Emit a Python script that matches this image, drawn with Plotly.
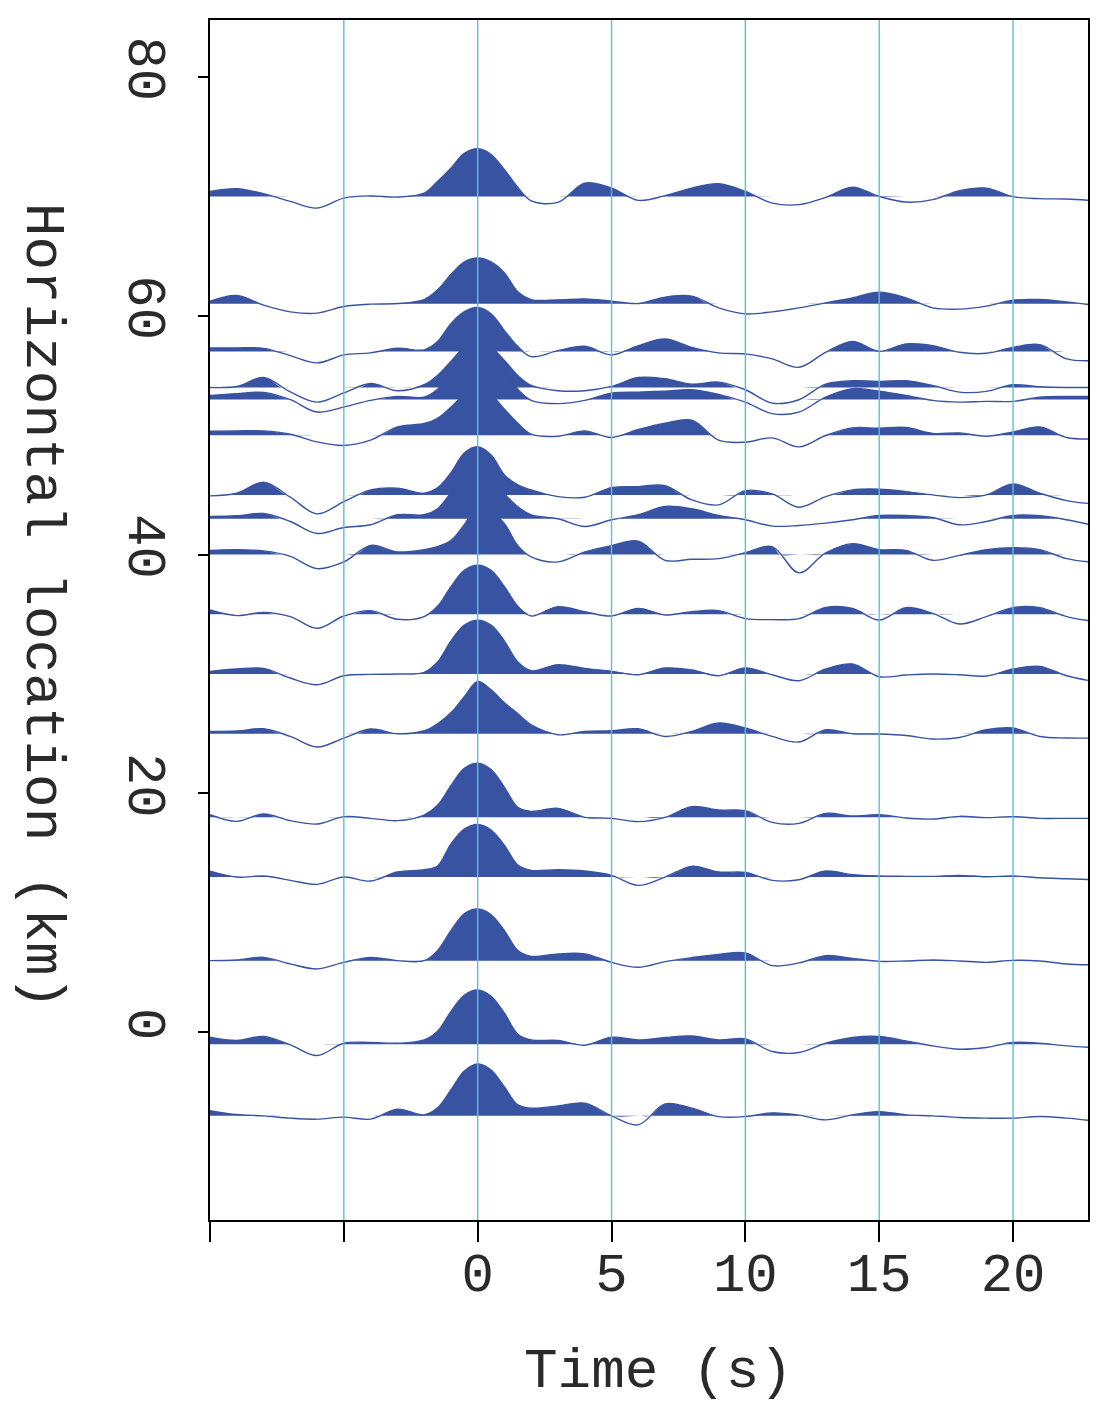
import numpy as np
import plotly.graph_objects as go

# ---------------- data ----------------
# sample times (s): 1 s spacing, 0.5 s around the main arrival
times = [-10, -9, -8, -7, -6, -5, -4, -3, -2,
         -1.5, -1, -0.5, 0, 0.5, 1, 1.5,
         2, 3, 4, 5, 6, 7, 8, 9, 10, 11, 12, 13, 14, 15, 16, 17, 18, 19, 20, 21, 22, 23]
offsets = [70, 61, 57, 54, 53, 50, 45, 43, 40, 35, 30, 25, 18, 13, 6, -1, -7]  # km

tr_01 = [5, 7.7, 2.7, -5, -11.7, -1.7, 0.5, -0.7, 3.3,
         15, 28.3, 43, 47.7, 42, 26.7, 9,
         -4.5, -6, 13.3, 8.3, -4, 0.7, 8.3, 12.7, 5, -6.7, -8.3, -1, 9.3, 0, -5.7, -3.3, 5.7, 8.3, -0.3, -2.3, -2.7, -4.3]
tr_02 = [2.7, 8.3, -1.3, -8, -9.3, -2.7, -0.3, 0.3, 4.3,
         14, 29.3, 42, 46, 42, 31, 12,
         4.3, 4, 5, 2.7, 0.3, 6.7, 7.7, -4, -10, -8, -4, 1, 6, 11.7, 6, -4, -5.3, -2.3, 3.7, 4.3, 2, -1.3]
tr_03 = [3.7, 3.7, 3.3, -4, -11.3, -3.3, -1.3, 3.3, 1.7,
         10, 28, 40, 44.3, 38, 21, 5,
         -5, 1, 5.3, -3.3, 6, 12.7, 4.3, -1.3, -2.3, -7.3, -15.7, -0.7, 10.3, 0.3, 7.7, 6, -0.7, -1.7, 4.3, 7, -7.3, -9]
tr_04 = [0, 1, 10, -4.5, -14.7, -5.5, 4, -3.3, 2.7,
         12, 26, 40, 44, 40, 27, 12,
         2, -3.3, -3.3, 1, 10, 8.7, 3.3, 5.3, -2.3, -15.7, -12.3, 3.3, 6.7, 6, 6.7, 2, -4.7, -4, 2.7, 0.7, 0, 0]
tr_05 = [4, 5.7, 7, -0.3, -12.7, -7.7, -1, 3, 2.3,
         10, 27, 40, 44, 40, 28, 10,
         -1, -4.3, -1, 6.3, 7.3, 8.3, 9.7, 5, -2.7, -14.3, -12.7, 2.3, 10.7, 8.3, 4, -1, -2.7, -2, -2, 2.3, 3, 3]
tr_06 = [4, 4.3, 4.3, 1, -6.7, -10.3, -5, 8.3, 11.7,
         17, 28, 40, 44, 40, 26, 12,
         1, -1, 4.3, -2.3, 5.7, 12, 15, -5, -7, -2.7, -11.7, -0.3, 7.3, 7, 7.7, 1.7, 2.3, -1, 3.3, 8.3, -2.3, -3.7]
tr_07 = [-1, 1.7, 12.7, -2.3, -19, -6.7, 5, 6.7, 1.7,
         7, 22, 42, 48.3, 40, 20, 10,
         5, -1.7, -2.3, 7.3, 8.3, 9.3, -5, -10, 4.3, 1, -12.3, -1.7, 5, 5.7, 3.3, 0, -2.7, 0, 11, 1.7, -5.7, -9]
tr_08 = [2.3, 3, 5.3, -2.7, -14.7, -8.7, -6, 4, 4,
         10, 26, 41, 45, 40, 25, 12,
         4, 0, -7.7, -1, 4, 12.3, 10, 3.3, -1, -7.3, -6.7, -4.3, -1, 3.3, 3.3, 1.3, -6, -2.7, 3.3, 3, -1, -6.7]
tr_09 = [4.3, 5, 3.7, -1.7, -14, -7.3, 9.3, 2.7, 5,
         8, 14, 30, 48, 43, 31, 9,
         -2.3, -7.3, 2.7, 9, 13.5, -5.7, -4.7, -4, 2, 8, -18.3, 1.7, 11, 5, 4.3, -5.7, -0.7, 5, 7, 5, -4, -7.7]
tr_10 = [4.3, -1.3, 2, -2.3, -14, -1.7, 3.7, -5, -2.3,
         8, 27.7, 44, 49.3, 44, 27.7, 8,
         -1.7, 7.7, 2.7, -1.7, 6, -0.7, 2.7, 3.7, -4.3, -5.3, -4.3, 7, 6, -5.7, 6.7, 1, -9.7, -2.3, 6.7, 6.7, -2.3, -7]
tr_11 = [2.7, 5, 5.7, -4, -10.7, -1.7, -0.3, 0, 1.7,
         12, 33, 49, 54, 49, 33, 12,
         3.3, 9.3, 5.7, 2.7, -0.7, 6, 4, -1.7, 6, -0.7, -6.7, 5, 10, -2.7, -1, 0, -0.7, -2, 5, 7.7, -1.7, -7.3]
tr_12 = [2.3, 2.7, 5, -2.7, -13.3, -4.3, 4.7, 0, 3,
         10, 21, 37, 52.3, 44, 31, 20,
         9, -1, 2.3, 3, 5, -2.7, 2.3, 10.7, 5.7, -2.7, -8.3, 4, 0, -0.3, -1.7, -5.3, -3.7, 4, 5.7, -2.7, -4.3, -4.3]
tr_13 = [2.7, -4, 3.3, -3.3, -6.7, 0.7, -1, -3.3, 2.3,
         12, 31.7, 49, 54.3, 48, 30, 10,
         6, 9, 0, -1, -4.3, 0, 10.7, 7.3, 6.7, -5, -6, 4, 1.3, 2.7, -0.7, -1.7, 1, -0.3, 0.7, -1, -1, -1]
tr_14 = [6, 0, 1, -3.3, -7.3, 0, -4, 5, 7.3,
         11, 33, 48, 52.7, 47, 31.7, 12,
         6.7, 7.3, 6, 1.7, -8.3, 0, 10.7, 5, 4.7, -3.3, -2.7, 6, 2.3, 1, 0.7, 0.7, 1.7, 0.3, 1, -0.7, -1.7, -2.7]
tr_15 = [0, 0.7, 3.3, -3.3, -8.3, -1.7, 3.3, 0, 0,
         10, 30, 47, 51.7, 46, 30, 10,
         4.3, 6.7, 6.7, -1.7, -6.7, -1, 3, 6.3, 7.7, -5, -2.3, 5, 2.3, -0.7, -0.3, 0.7, -0.3, -1.7, 0.3, -0.3, -3.3, -4.3]
tr_16 = [7, 3.7, 7.7, -0.7, -11.3, 1, 1.7, 1, 4.3,
         13, 32.7, 49, 54.3, 48, 31, 10,
         4.3, 3.7, -1, 7, 4.3, 6.7, 8.3, 4.3, 5.3, -7.3, -8.3, 1, 6.7, 7.7, 3.3, -1.7, -5, -3.3, 1.7, 1, -1.7, -3.3]
tr_17 = [5.3, 1.3, 0, -2.3, -3.3, -1.3, -3.3, 6.7, 1,
         8, 26, 45, 52, 46, 29, 11,
         7.7, 10, 12.7, 0, -9, 12, 7.7, -0.7, -0.7, 3, 0.7, -4, 1, 4.3, 1, 0, -1.7, -2.3, -2.3, -0.7, -2.3, -5]

traces = [tr_01, tr_02, tr_03, tr_04, tr_05, tr_06, tr_07, tr_08, tr_09,
          tr_10, tr_11, tr_12, tr_13, tr_14, tr_15, tr_16, tr_17]

x_tickvals = [-10, -5, 0, 5, 10, 15, 20]
x_ticktext = ["", "", "0", "5", "10", "15", "20"]
y_tickvals = [0, 20, 40, 60, 80]
grid_times = [-5, 0, 5, 10, 15, 20]

# ---------------- style ----------------
COL = "#3953a3"
GRID = "#55c0dc"
FONT = "Liberation Mono"
TXT = "#2a2a2a"
AMP_SCALE = 1 / 11.9625  # amplitude units -> km


def positive_part(t, a):
    xs, ys = [], []
    for i in range(len(t)):
        if i > 0 and a[i - 1] * a[i] < 0:
            tc = t[i - 1] + (t[i] - t[i - 1]) * a[i - 1] / (a[i - 1] - a[i])
            xs.append(tc)
            ys.append(0.0)
        xs.append(t[i])
        ys.append(max(a[i], 0.0))
    return xs, np.array(ys)


fig = go.Figure()
for off, amp in zip(offsets, traces):
    a = np.array(amp, dtype=float)
    xs, ys = positive_part(times, a)
    fig.add_trace(go.Scatter(x=[times[0], times[-1]], y=[off, off], mode="lines",
                             line=dict(width=0, color=COL), hoverinfo="skip",
                             showlegend=False))
    fig.add_trace(go.Scatter(x=xs, y=off + ys * AMP_SCALE, mode="lines",
                             line=dict(width=0, color=COL, shape="spline", smoothing=1.0),
                             fill="tonexty", fillcolor=COL, showlegend=False))
    fig.add_trace(go.Scatter(x=times, y=off + a * AMP_SCALE, mode="lines",
                             line=dict(width=1.4, color=COL, shape="spline", smoothing=1.0),
                             showlegend=False))

for g in grid_times:
    fig.add_vline(x=g, line=dict(color=GRID, width=1.4), layer="above")

fig.update_xaxes(range=[-10, 22.8], tickvals=x_tickvals, ticktext=x_ticktext,
                 ticks="outside", ticklen=20, tickwidth=1.5, tickcolor="black",
                 showline=True, mirror=True, linecolor="black", linewidth=1.5,
                 showgrid=False, zeroline=False, ticklabelstandoff=-16,
                 tickfont=dict(family=FONT, size=54, color=TXT))
fig.update_yaxes(range=[-15.72, 84.77], tickvals=y_tickvals,
                 ticks="outside", ticklen=10, tickwidth=1.5, tickcolor="black",
                 tickangle=90, showline=True, mirror=True, linecolor="black",
                 linewidth=1.5, showgrid=False, zeroline=False, ticklabelstandoff=4,
                 tickfont=dict(family=FONT, size=54, color=TXT))

fig.add_annotation(text="Time (s)", xref="paper", yref="paper", x=0.511, y=-0.127,
                   showarrow=False, xanchor="center", yanchor="middle",
                   font=dict(family=FONT, size=56, color=TXT))
fig.add_annotation(text="Horizontal location (km)", xref="paper", yref="paper",
                   x=-0.191, y=0.5116, textangle=90, showarrow=False,
                   xanchor="center", yanchor="middle",
                   font=dict(family=FONT, size=56, color=TXT))

fig.update_layout(width=1108, height=1403,
                  margin=dict(l=202, r=28, t=10, b=191),
                  plot_bgcolor="white", paper_bgcolor="white",
                  showlegend=False)

fig.write_html("out.html")
